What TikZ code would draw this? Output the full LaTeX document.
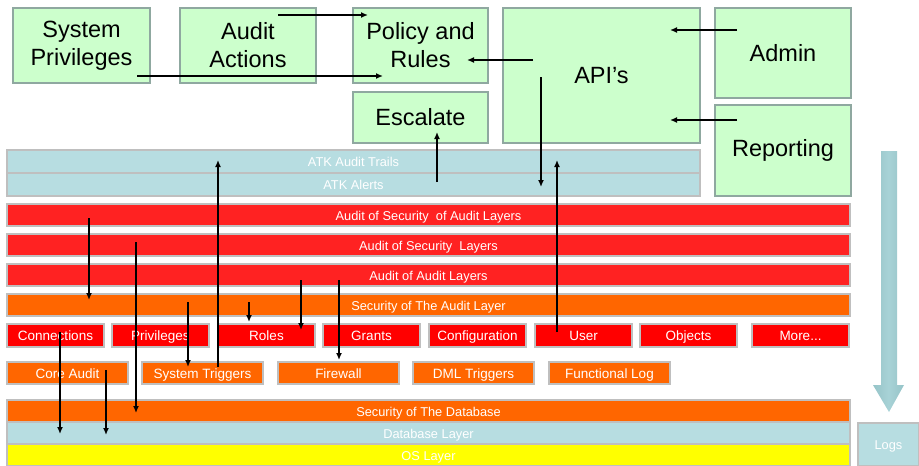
\documentclass[tikz,border=0pt]{standalone}
\usepackage{fontspec}
\setmainfont{Liberation Sans}
\usetikzlibrary{arrows.meta}
\definecolor{gfill}{HTML}{CCFFCC}
\definecolor{gdraw}{HTML}{8FA8A0}
\definecolor{bfill}{HTML}{B7DDE1}
\definecolor{rbar}{HTML}{FF2222}
\definecolor{rbox}{HTML}{FF0000}
\definecolor{obar}{HTML}{FF6600}
\definecolor{ybar}{HTML}{FFFF00}
\definecolor{bigarr}{HTML}{A8D2D6}
\definecolor{bigarrd}{HTML}{96C4C8}
\tikzset{
  base/.style={rectangle, inner sep=0pt, outer sep=0pt, anchor=north west, draw=gdraw, line width=1.2pt, align=center},
  gbox/.style={base, fill=gfill, text=black, font=\fontsize{23.5}{28}\selectfont},
  stxt/.style={text height=10.2pt, text depth=0pt},
  bar/.style={base, stxt, minimum width=843pt, minimum height=22pt, text=white, font=\fontsize{12.8}{14}\selectfont, draw=gray!50},
  redbar/.style={bar, fill=rbar},
  orbar/.style={bar, fill=obar},
  bluebar/.style={bar, fill=bfill},
  yelbar/.style={bar, fill=ybar},
  sred/.style={base, stxt, fill=rbox, draw=gray!50, minimum width=97pt, minimum height=23pt, text=white, font=\fontsize{13.5}{15}\selectfont},
  sor/.style={base, stxt, fill=obar, draw=gray!50, minimum width=121pt, minimum height=22pt, text=white, font=\fontsize{13.5}{15}\selectfont},
  arr/.style={line width=1.6pt, -{Latex[length=7pt,width=6pt]}}
}
\begin{document}
\begin{tikzpicture}[x=1pt,y=-1pt]
\useasboundingbox (0,0) rectangle (919,466);
% top green boxes
\node[gbox, minimum width=137pt, minimum height=75pt] (sp) at (13,8) {System\\Privileges};
\node[gbox, minimum width=136pt, minimum height=75pt] (aa) at (180,8) {Audit\\Actions};
\node[gbox, minimum width=135pt, minimum height=75pt] (pr) at (353,8) {Policy and\\Rules};
\node[gbox, minimum width=135pt, minimum height=51pt] (es) at (353,92) {Escalate};
\node[gbox, minimum width=197pt, minimum height=135pt] (api) at (503,8) {API’s};
\node[gbox, minimum width=136pt, minimum height=90pt] (adm) at (715,8) {Admin};
\node[gbox, minimum width=136pt, minimum height=91pt] (rep) at (715,105) {Reporting};
% ATK bars
\node[bluebar, minimum width=693pt, minimum height=23pt] (atk1) at (7,150) {ATK Audit Trails};
\node[bluebar, minimum width=693pt, minimum height=23pt] (atk2) at (7,173) {ATK Alerts};
% layer bars
\node[redbar] (r1) at (7,204) {Audit of Security \ of Audit Layers};
\node[redbar] (r2) at (7,234) {Audit of Security \ Layers};
\node[redbar] (r3) at (7,264) {Audit of Audit Layers};
\node[orbar] (o1) at (7,294) {Security of The Audit Layer};
% small red boxes
\node[sred] (c1) at (7,324) {Connections};
\node[sred] (c2) at (112,324) {Privileges};
\node[sred] (c3) at (218,324) {Roles};
\node[sred] (c4) at (323,324) {Grants};
\node[sred] (c5) at (429,324) {Configuration};
\node[sred] (c6) at (535,324) {User};
\node[sred] (c7) at (640,324) {Objects};
\node[sred] (c8) at (752,324) {More...};
% small orange boxes
\node[sor] (d1) at (7,362) {Core Audit};
\node[sor] (d2) at (142,362) {System Triggers};
\node[sor] (d3) at (278,362) {Firewall};
\node[sor] (d4) at (413,362) {DML Triggers};
\node[sor] (d5) at (549,362) {Functional Log};
% bottom layers
\node[orbar] (sdb) at (7,400) {Security of The Database};
\node[bluebar] (dbl) at (7,422) {Database Layer};
\node[yelbar] (os) at (7,444) {OS Layer};
\node[base, stxt, fill=bfill, draw=gray!50, minimum width=61pt, minimum height=43pt, text=white, font=\fontsize{12.8}{14}\selectfont] (logs) at (858,423) {Logs};
% big flow arrow
\shade[left color=bigarrd, right color=bigarrd, middle color=bigarr] (881,151) -- (897,151) -- (897,385) -- (904,385) -- (889,412) -- (873,385) -- (881,385) -- cycle;
% arrow end points
\coordinate (a1s) at (278,15);  \coordinate (a1e) at (368,15);
\coordinate (a2s) at (137,76);  \coordinate (a2e) at (383,76);
\coordinate (a3s) at (533,60);  \coordinate (a3e) at (467,60);
\coordinate (a4s) at (737,30);  \coordinate (a4e) at (670,30);
\coordinate (a5s) at (737,120); \coordinate (a5e) at (670,120);
\coordinate (a6s) at (541,77);  \coordinate (a6e) at (541,187);
\coordinate (a7s) at (557,332); \coordinate (a7e) at (557,160);
\coordinate (a8s) at (437,182); \coordinate (a8e) at (437,132);
\coordinate (a9s) at (218,367); \coordinate (a9e) at (218,160);
\coordinate (b1s) at (89,218);  \coordinate (b1e) at (89,300);
\coordinate (b2s) at (136,242); \coordinate (b2e) at (136,413);
\coordinate (b3s) at (188,302); \coordinate (b3e) at (188,367);
\coordinate (b4s) at (249,302); \coordinate (b4e) at (249,322);
\coordinate (b5s) at (301,280); \coordinate (b5e) at (301,330);
\coordinate (b6s) at (339,280); \coordinate (b6e) at (339,360);
\coordinate (b7s) at (60,332);  \coordinate (b7e) at (60,434);
\coordinate (b8s) at (106,370); \coordinate (b8e) at (106,435);
\foreach \p in {a1,a2,a3,a4,a5,a6,a7,a8,a9,b1,b2,b3,b4,b5,b6,b7,b8}
  \draw[arr] (\p s) -- (\p e);
\end{tikzpicture}
\end{document}
